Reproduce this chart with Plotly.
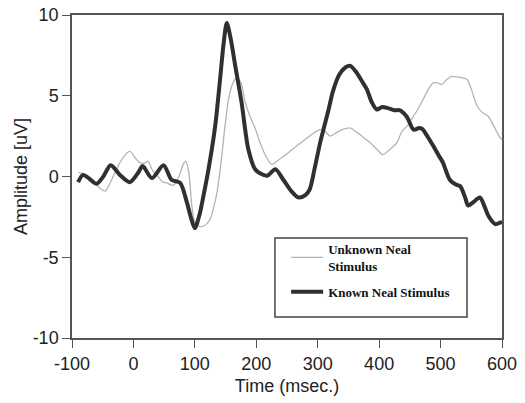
import plotly.graph_objects as go

# Known Neal Stimulus (thick dark line)
known_t = [-90, -82, -73, -60, -49, -37, -22, -6, 8, 15, 30, 49, 62, 76, 87, 94, 100, 108, 115,
           122, 133, 141, 147, 152, 158, 166, 176, 187, 198, 206, 218, 231, 244, 257, 269, 280,
           287, 295, 304, 310, 318, 325, 335, 345, 353, 362, 372, 380, 388, 396, 405, 413, 425,
           434, 445, 456, 465, 470, 480, 488, 497, 504, 515, 525, 532, 540, 545, 553, 564, 572,
           578, 589, 597, 600]
known_v = [-0.35, 0.1, -0.1, -0.45, 0.0, 0.7, 0.1, -0.35, 0.25, 0.65, -0.1, 0.7, -0.2, -0.4, -1.6,
           -2.6, -3.2, -2.3, -1.0, 0.4, 3.1, 6.0, 8.3, 9.5, 8.6, 6.8, 4.6, 1.7, 0.45, 0.2, 0.05,
           0.45, -0.2, -0.9, -1.3, -1.15, -0.8, 0.5, 2.1, 3.0, 4.2, 5.3, 6.3, 6.75, 6.85, 6.5,
           5.9, 5.4, 4.6, 4.15, 4.3, 4.25, 4.1, 4.1, 3.7, 2.9, 3.0, 2.95, 2.4, 1.9, 1.3, 0.85,
           -0.2, -0.5, -0.6, -1.3, -1.8, -1.6, -1.3, -1.9, -2.45, -2.95, -2.85, -2.8]

# Unknown Neal Stimulus (thin light line)
unknown_t = [-90, -76, -65, -55, -46, -38, -33, -19, -6, 5, 11, 19, 24, 30, 40, 48, 54, 65, 75,
             81, 85, 90, 95, 100, 108, 115, 120, 125, 130, 136, 143, 149, 155, 162, 168, 175,
             182, 190, 198, 206, 215, 225, 232, 239, 250, 266, 280, 290, 304, 312, 320, 330,
             340, 353, 365, 375, 385, 396, 406, 415, 429, 437, 445, 452, 462, 472, 480, 488,
             495, 502, 510, 518, 530, 543, 551, 559, 567, 578, 587, 597, 600]
unknown_v = [0.25, 0.1, -0.3, -0.7, -0.9, -0.4, 0.0, 1.05, 1.55, 1.05, 0.85, 0.85, 0.95, 0.45,
             0.0, -0.35, -0.4, -0.55, 0.1, 0.75, 0.95, 0.3, -1.8, -2.8, -3.1, -3.05, -2.9,
             -2.65, -2.0, -1.0, 1.0, 3.1, 4.8, 5.8, 6.1, 5.8, 4.6, 3.7, 3.0, 2.1, 1.3, 0.75,
             0.9, 1.1, 1.4, 1.9, 2.3, 2.6, 2.9, 2.8, 2.5, 2.7, 2.9, 3.0, 2.7, 2.4, 2.1, 1.7,
             1.35, 1.6, 2.1, 2.8, 3.1, 3.5, 4.1, 4.8, 5.4, 5.8, 5.8, 5.7, 6.0, 6.2, 6.15, 6.0,
             5.3, 4.4, 4.0, 3.7, 3.1, 2.4, 2.3]

x_ticks = [-100, 0, 100, 200, 300, 400, 500, 600]
y_ticks = [-10, -5, 0, 5, 10]

fig = go.Figure()
fig.add_trace(go.Scatter(x=unknown_t, y=unknown_v, mode="lines",
                         name="Unknown Neal<br>Stimulus", legendgroup="u",
                         line=dict(color="#b4b4b4", width=1.3, shape="spline", smoothing=0.8)))
fig.add_trace(go.Scatter(x=known_t, y=known_v, mode="lines",
                         name="Known Neal Stimulus", legendgroup="k",
                         line=dict(color="#303030", width=4, shape="spline", smoothing=0.8)))

axis_font = dict(family="Liberation Sans, Arial, sans-serif", size=18, color="#222222")

fig.update_layout(
    width=525, height=403,
    margin=dict(l=72, r=23, t=15, b=65),
    paper_bgcolor="white", plot_bgcolor="white",
    font=axis_font,
    showlegend=True,
    hovermode=False,
    legend=dict(
        x=0.498, y=0.322, xanchor="left", yanchor="top",
        bgcolor="rgba(0,0,0,0)", borderwidth=0,
        font=dict(family="Liberation Serif, Times New Roman, serif", size=13,
                  color="#111111", weight="bold"),
        itemwidth=32, tracegroupgap=6,
    ),
    shapes=[dict(type="rect", xref="paper", yref="paper",
                 x0=0.472, x1=0.9186, y0=0.065, y1=0.3096,
                 line=dict(color="#444444", width=1.5), fillcolor="rgba(0,0,0,0)")],
)
fig.update_xaxes(
    range=[-100, 600], tickvals=x_ticks, ticktext=[str(v) for v in x_ticks],
    showgrid=False, zeroline=False, showline=True, mirror=True,
    linecolor="#555555", linewidth=1.5,
    ticks="outside", ticklen=8, tickcolor="#555555", tickwidth=1.2,
    tickfont=axis_font, ticklabelstandoff=1, ticklabeloverflow="allow",
    automargin=False,
    title=dict(text="Time (msec.)", font=axis_font, standoff=6),
)
fig.update_yaxes(
    range=[-10, 10], tickvals=y_ticks, ticktext=[str(v) for v in y_ticks],
    showgrid=False, zeroline=False, showline=True, mirror=True,
    linecolor="#555555", linewidth=1.5,
    ticks="outside", ticklen=8, tickcolor="#555555", tickwidth=1.2,
    tickfont=axis_font, ticklabeloverflow="allow",
    automargin=False,
    title=dict(text="Amplitude [uV]", font=axis_font, standoff=0),
)

fig.write_html("out.html", config={"displayModeBar": False},
               post_script="document.body.style.margin='0px';")
